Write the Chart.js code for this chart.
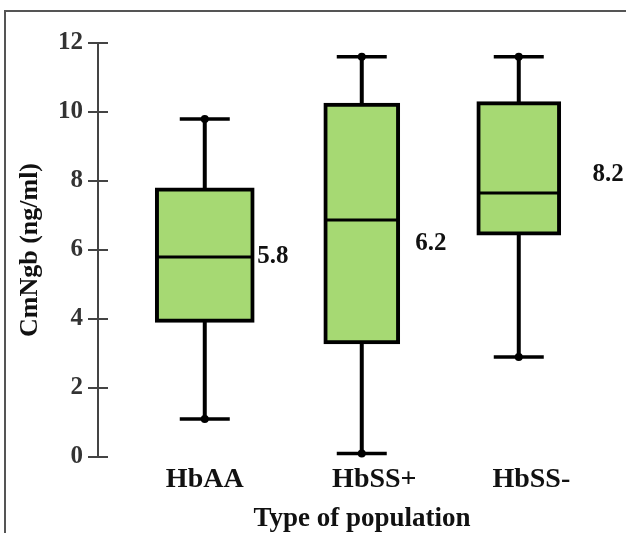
<!DOCTYPE html>
<html>
<head>
<meta charset="utf-8">
<title>CmNgb by population</title>
<script src="https://cdn.jsdelivr.net/npm/chart.js@4.4.0/dist/chart.umd.min.js"></script>
<style>
  html, body { margin: 0; padding: 0; background: #fff; }
  #wrap { position: relative; width: 626px; height: 533px; overflow: hidden; }
  #frame { position: absolute; left: 4px; top: 10px; right: -10px; bottom: -10px;
           border-top: 2px solid #555; border-left: 2px solid #555; }
  #chart { position: absolute; left: 0; top: 0; }
</style>
</head>
<body>
<div id="wrap">
  <div id="frame"></div>
  <canvas id="chart" width="626" height="533"></canvas>
</div>
<script>
// boxplot values
const groups = ['HbAA', 'HbSS+', 'HbSS-'];
const groupX = [1, 2, 3];
const mins = [1.1, 0.1, 2.9];
const q1s = [3.9, 3.28, 6.43];
const medians = [5.8, 6.87, 7.65];
const q3s = [7.8, 10.26, 10.3];
const maxs = [9.8, 11.6, 11.6];
const meanValues = [5.8, 6.2, 8.2];
const yTicks = [0, 2, 4, 6, 8, 10, 12];

const serif = "'Liberation Serif', 'Times New Roman', serif";
const boxWidths = [99, 76, 84];
const labelTickX = [1, 2.08, 3.08];   // x labels sit a bit right of the boxes
const meanLabelX = [1.335, 2.34, 3.47];

// draws the whiskers, caps, medians and the value notes
const boxParts = {
    id: 'boxParts',
    afterDatasetsDraw(chart) {
        const { ctx } = chart;
        const x = chart.scales.x;
        const y = chart.scales.y;
        const line = (x1, y1, x2, y2) => {
            ctx.beginPath();
            ctx.moveTo(x1, y1);
            ctx.lineTo(x2, y2);
            ctx.stroke();
        };
        ctx.save();
        ctx.strokeStyle = '#000';
        ctx.fillStyle = '#000';
        groups.forEach((g, i) => {
            const cx = x.getPixelForValue(groupX[i]);
            const bar = chart.getDatasetMeta(i).data[0];
            const yMax = y.getPixelForValue(maxs[i]);
            const yMin = y.getPixelForValue(mins[i]);

            ctx.lineWidth = 4;
            line(cx, y.getPixelForValue(q3s[i]) + 2, cx, yMax);
            line(cx, y.getPixelForValue(q1s[i]) - 2, cx, yMin);

            ctx.lineWidth = 3.5;
            line(cx - 25, yMax, cx + 25, yMax);
            line(cx - 25, yMin, cx + 25, yMin);
            [yMax, yMin].forEach(py => {
                ctx.beginPath();
                ctx.arc(cx, py, 4, 0, Math.PI * 2);
                ctx.fill();
            });

            const ym = y.getPixelForValue(medians[i]);
            ctx.lineWidth = 3;
            line(bar.x - bar.width / 2 + 2, ym, bar.x + bar.width / 2 - 2, ym);

            ctx.font = `bold 25px ${serif}`;
            ctx.textAlign = 'left';
            ctx.textBaseline = 'middle';
            ctx.fillStyle = '#111';
            ctx.fillText(meanValues[i].toFixed(1), x.getPixelForValue(meanLabelX[i]), y.getPixelForValue(meanValues[i]));
            ctx.fillStyle = '#000';
        });
        ctx.restore();
    }
};

// tick marks of the y axis cross the axis line
const innerTicks = {
    id: 'innerTicks',
    afterDraw(chart) {
        const { ctx } = chart;
        const y = chart.scales.y;
        const left = chart.chartArea.left;
        ctx.save();
        ctx.strokeStyle = '#444';
        ctx.lineWidth = 2;
        yTicks.forEach(v => {
            const py = y.getPixelForValue(v);
            ctx.beginPath();
            ctx.moveTo(left - 1, py);
            ctx.lineTo(left + 10, py);
            ctx.stroke();
        });
        ctx.restore();
    }
};

new Chart(document.getElementById('chart'), {
    type: 'bar',
    data: {
        datasets: groups.map((g, i) => ({
            label: g,
            data: [{ x: groupX[i], y: [q1s[i], q3s[i]] }],
            backgroundColor: '#a6d973',
            borderColor: '#000',
            borderWidth: 4,
            borderSkipped: false,
            barThickness: boxWidths[i],
            grouped: false
        }))
    },
    options: {
        responsive: false,
        animation: false,
        layout: { padding: { left: 10, top: 43, right: 0, bottom: 0 } },
        plugins: {
            legend: { display: false },
            tooltip: { enabled: false }
        },
        scales: {
            x: {
                type: 'linear',
                min: 0.32,
                max: 3.683,
                offset: false,
                grid: { display: false, drawTicks: false },
                border: { display: false },
                afterBuildTicks: s => { s.ticks = labelTickX.map(v => ({ value: v })); },
                ticks: {
                    autoSkip: false,
                    maxRotation: 0,
                    padding: 6,
                    color: '#111',
                    font: { family: serif, size: 28, weight: 'bold' },
                    callback: (v, i) => groups[i]
                },
                title: {
                    display: true,
                    text: 'Type of population',
                    color: '#111',
                    font: { family: serif, size: 27, weight: 'bold', lineHeight: 1 },
                    padding: { top: 0, bottom: 0 }
                },
                afterFit: s => { s.height = 76; }
            },
            y: {
                min: 0,
                max: 12,
                afterBuildTicks: s => { s.ticks = yTicks.map(v => ({ value: v })); },
                grid: { drawOnChartArea: false, tickLength: 10, color: '#444', lineWidth: 2 },
                border: { display: true, color: '#444', width: 2 },
                ticks: {
                    padding: 5,
                    color: '#333',
                    font: { family: serif, size: 25, weight: 'bold' }
                },
                title: {
                    display: true,
                    text: 'CmNgb (ng/ml)',
                    color: '#111',
                    font: { family: serif, size: 26, weight: 'bold' },
                    padding: { top: 5, bottom: 0 }
                },
                afterFit: s => { s.width = 88; }
            }
        }
    },
    plugins: [boxParts, innerTicks]
});
</script>
</body>
</html>
